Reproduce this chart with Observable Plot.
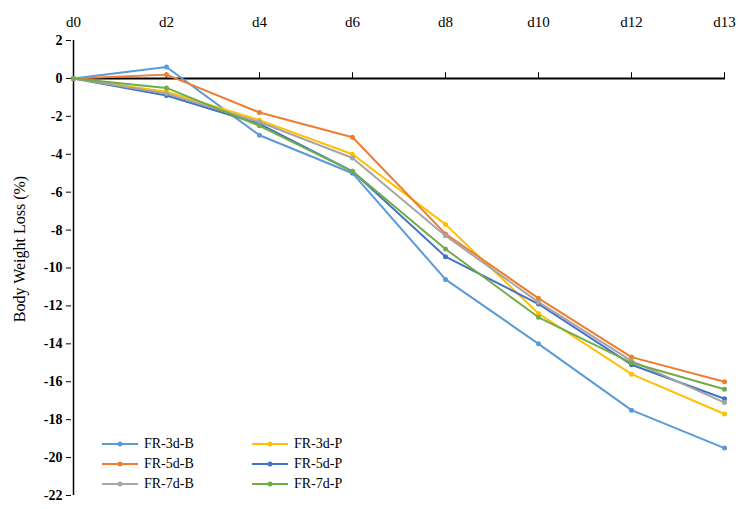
<!DOCTYPE html>
<html><head>
<meta charset="utf-8">
<script src="https://cdn.jsdelivr.net/npm/d3@7"></script>
<script src="https://cdn.jsdelivr.net/npm/@observablehq/plot@0.6"></script>
<style>
body{margin:0;background:#fff;font-family:"Liberation Serif",serif}
#wrap{position:relative;width:739px;height:509px}
#chart svg text{font-family:"Liberation Serif",serif}
#legend{position:absolute;left:100px;top:436px;font-size:14px;display:grid;grid-template-columns:150px 150px;row-gap:4px}
#legend span{display:flex;align-items:center;gap:4px}
</style>
</head><body>
<div id="wrap"><div id="chart"></div><div id="legend"></div></div>
<script>
const days = ["d0","d2","d4","d6","d8","d10","d12","d13"]
const seriesNames = ["FR-3d-B","FR-3d-P","FR-5d-B","FR-5d-P","FR-7d-B","FR-7d-P"]
const colors = ["#5B9BD5","#FFC000","#ED7D31","#4472C4","#A5A5A5","#70AD47"]
const fr3dB = [0, 0.6, -3.0, -5.0, -10.6, -14.0, -17.5, -19.5]
const fr3dP = [0, -0.7, -2.2, -4.0, -7.7, -12.4, -15.6, -17.7]
const fr5dB = [0, 0.2, -1.8, -3.1, -8.2, -11.6, -14.7, -16.0]
const fr5dP = [0, -0.9, -2.4, -4.9, -9.4, -11.9, -15.1, -16.9]
const fr7dB = [0, -0.8, -2.3, -4.2, -8.3, -11.8, -14.9, -17.1]
const fr7dP = [0, -0.5, -2.5, -4.9, -9.0, -12.6, -15.0, -16.4]
const allSeries = [fr3dB, fr3dP, fr5dB, fr5dP, fr7dB, fr7dP]

const data = []
allSeries.forEach((vals, i) => vals.forEach((v, j) => data.push({day: days[j], value: v, series: seriesNames[i]})))

const yTicks = d3.range(-22, 3, 2)

let chart = Plot.plot({
  width: 739,
  height: 509,
  marginLeft: 71,
  marginRight: 14,
  marginTop: 40,
  marginBottom: 14,
  style: {fontFamily: "Liberation Serif", fontSize: "14px", background: "#fff"},
  x: {type: "point", domain: days, padding: 0, axis: null},
  y: {domain: [-22, 2], ticks: yTicks, label: null},
  color: {domain: seriesNames, range: colors},
  marks: [
    Plot.axisY({ticks: yTicks, tickSize: 5, fontWeight: "bold", fontSize: 14, label: null, tickFormat: d => d3.format("d")(d).replace("−", "-")}),
    Plot.ruleX(["d0"], {x: d => d, stroke: "black", strokeWidth: 1.5}),
    Plot.ruleY([0], {stroke: "black", strokeWidth: 2}),
    Plot.ruleX(days, {x: d => d, y1: 0, y2: 0.3, stroke: "black"}),
    Plot.text(days, {x: d => d, y: 2, dy: -18, text: d => d, fontSize: 15}),
    Plot.text(["Body Weight Loss (%)"], {x: () => "d0", y: () => -9, dx: -54, rotate: -90, fontSize: 16}),
    Plot.line(data, {x: "day", y: "value", stroke: "series", strokeWidth: 2}),
    Plot.dot(data, {x: "day", y: "value", fill: "series", r: 2.5})
  ]
})
d3.select('#chart').append(() => chart)

const legend = d3.select('#legend')
seriesNames.forEach((n, i) => {
  const s = legend.append('span')
  s.html(`<svg width="40" height="10"><line x1="2" y1="5" x2="38" y2="5" stroke="${colors[i]}" stroke-width="2"/><circle cx="20" cy="5" r="2.5" fill="${colors[i]}"/></svg>${n}`)
})
</script>
</body></html>
